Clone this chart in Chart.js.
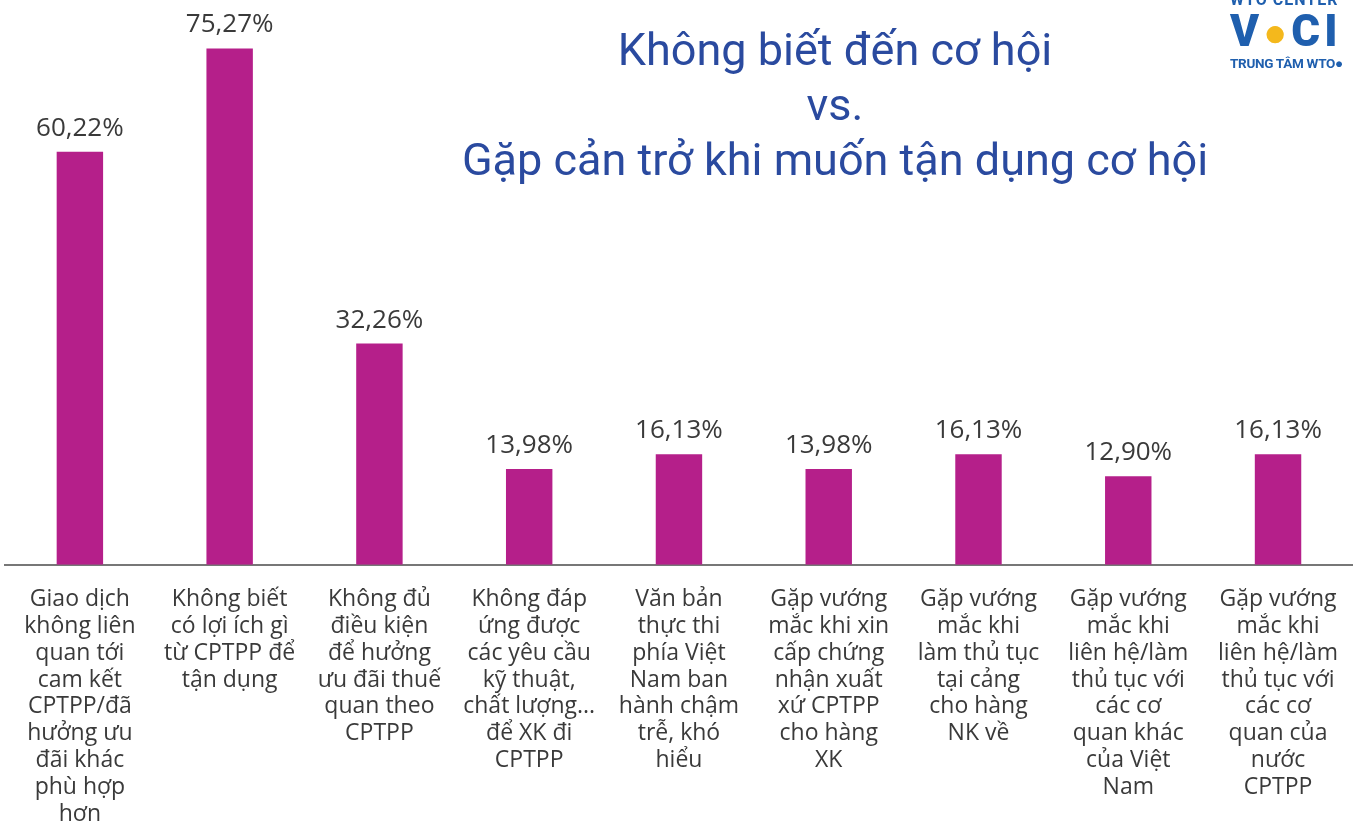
<!DOCTYPE html>
<html>
<head>
<meta charset="utf-8">
<script src="https://cdn.jsdelivr.net/npm/chart.js@4.4.1/dist/chart.umd.min.js"></script>
<style>
  html, body { margin: 0; padding: 0; background: #fff; }
  #wrap { position: relative; width: 1353px; height: 825px; overflow: hidden; }
  #title {
    position: absolute; left: 435px; top: 22px; width: 800px;
    text-align: center; font-family: Roboto, sans-serif; font-size: 45px;
    line-height: 55px; color: #2a4a9f;
  }
  #logo { position: absolute; left: 1230px; top: -10px; width: 140px; font-family: Roboto, sans-serif; color: #1f5fae; }
  #logo .top { font-size: 16px; font-weight: bold; letter-spacing: 1px; }
  #logo .big { font-size: 44px; font-weight: 900; letter-spacing: 4px; line-height: 44px; }
  #logo .big span { color: #f4b81c; font-size: 40px; }
  #logo .bot { font-size: 13.5px; font-weight: bold; letter-spacing: -0.3px; }
</style>
</head>
<body>
<div id="wrap">
  <canvas id="chart" width="1359" height="825"></canvas>
  <div id="title">Không biết đến cơ hội<br>vs.<br>Gặp cản trở khi muốn tận dụng cơ hội</div>
  <div id="logo">
    <div class="top">WTO CENTER</div>
    <div class="big">V<span>●</span>CI</div>
    <div class="bot">TRUNG TÂM WTO●</div>
  </div>
</div>
<script>
const categories = [
  ['Giao dịch', 'không liên', 'quan tới', 'cam kết', 'CPTPP/đã', 'hưởng ưu', 'đãi khác', 'phù hợp', 'hơn'],
  ['Không biết', 'có lợi ích gì', 'từ CPTPP để', 'tận dụng'],
  ['Không đủ', 'điều kiện', 'để hưởng', 'ưu đãi thuế', 'quan theo', 'CPTPP'],
  ['Không đáp', 'ứng được', 'các yêu cầu', 'kỹ thuật,', 'chất lượng...', 'để XK đi', 'CPTPP'],
  ['Văn bản', 'thực thi', 'phía Việt', 'Nam ban', 'hành chậm', 'trễ, khó', 'hiểu'],
  ['Gặp vướng', 'mắc khi xin', 'cấp chứng', 'nhận xuất', 'xứ CPTPP', 'cho hàng', 'XK'],
  ['Gặp vướng', 'mắc khi', 'làm thủ tục', 'tại cảng', 'cho hàng', 'NK về'],
  ['Gặp vướng', 'mắc khi', 'liên hệ/làm', 'thủ tục với', 'các cơ', 'quan khác', 'của Việt', 'Nam'],
  ['Gặp vướng', 'mắc khi', 'liên hệ/làm', 'thủ tục với', 'các cơ', 'quan của', 'nước', 'CPTPP']
]
const values = [60.22, 75.27, 32.26, 13.98, 16.13, 13.98, 16.13, 12.90, 16.13]
const valueLabels = ['60,22%', '75,27%', '32,26%', '13,98%', '16,13%', '13,98%', '16,13%', '12,90%', '16,13%']

// draws the percentage above each bar
const barLabels = {
  id: 'barLabels',
  afterDatasetsDraw(chart) {
    const { ctx } = chart
    const meta = chart.getDatasetMeta(0)
    ctx.save()
    ctx.font = '26px "Open Sans", sans-serif'
    ctx.fillStyle = '#3a3a3a'
    ctx.textAlign = 'center'
    ctx.textBaseline = 'alphabetic'
    meta.data.forEach((bar, i) => {
      ctx.fillText(valueLabels[i], bar.x, bar.y - 16)
    })
    ctx.restore()
  }
}

new Chart(document.getElementById('chart'), {
  type: 'bar',
  data: {
    labels: categories,
    datasets: [{
      data: values,
      backgroundColor: '#b51f8a',
      categoryPercentage: 1,
      barPercentage: 0.31
    }]
  },
  options: {
    responsive: false,
    animation: false,
    layout: { padding: { left: 5, right: 0, top: 16, bottom: -24 } },
    plugins: { legend: { display: false }, tooltip: { enabled: false } },
    scales: {
      x: {
        grid: { display: false, drawTicks: false },
        border: { color: '#777', width: 2 },
        ticks: {
          autoSkip: false, maxRotation: 0, minRotation: 0, padding: 21,
          color: '#3a3a3a',
          font: { family: '"Open Sans", sans-serif', size: 23, lineHeight: 1.17 }
        }
      },
      y: { display: false, min: 0, max: 80 }
    }
  },
  plugins: [barLabels]
})
</script>
</body>
</html>
